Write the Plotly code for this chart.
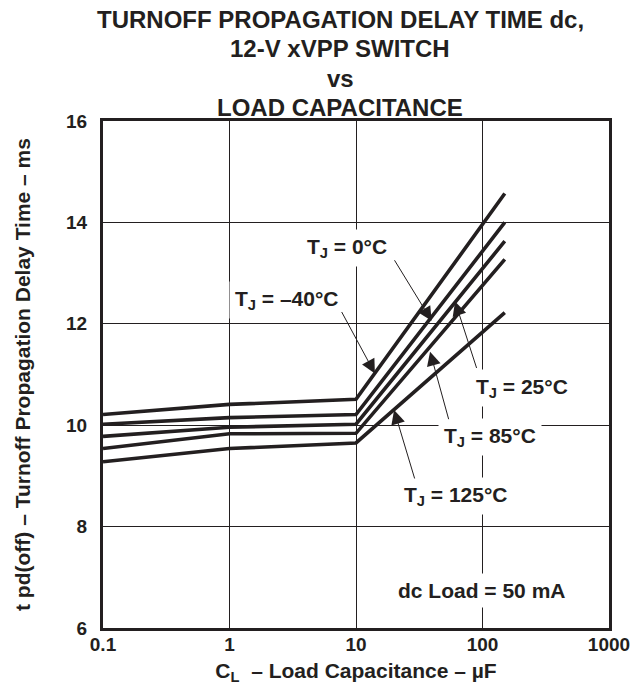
import numpy as np
import plotly.graph_objects as go

# ---- data ----
cap_uF = [0.1, 1, 10, 150]
series_names = ["TJ = -40°C", "TJ = 0°C", "TJ = 25°C", "TJ = 85°C", "TJ = 125°C"]
t_m40 = [10.21, 10.41, 10.51, 14.57]
t_0 = [10.02, 10.15, 10.21, 14.00]
t_25 = [9.78, 9.96, 10.02, 13.63]
t_85 = [9.54, 9.83, 9.84, 13.27]
t_125 = [9.28, 9.54, 9.65, 12.22]
all_series = [t_m40, t_0, t_25, t_85, t_125]

x_tickvals = [0.1, 1, 10, 100, 1000]
x_ticktext = ["0.1", "1", "10", "100", "1000"]
y_tickvals = [6, 8, 10, 12, 14, 16]
y_ticktext = ["6", "8", "10", "12", "14", "16"]

title_lines = ["TURNOFF PROPAGATION DELAY TIME dc,", "12-V xVPP SWITCH", "vs", "LOAD CAPACITANCE"]

# labels: text, label centre (C, t), arrow tip (C, t), tail offset px
labels = [
    ("T<sub>J</sub> = 0°C", 8.49, 13.50, 39.6, 12.06, -38, -62),
    ("T<sub>J</sub> = –40°C", 2.85, 12.46, 14.1, 11.02, -34, -63),
    ("T<sub>J</sub> = 25°C", 205, 10.74, 60.7, 12.44, 22, 68),
    ("T<sub>J</sub> = 85°C", 114.5, 9.76, 38.5, 11.45, 19, 69),
    ("T<sub>J</sub> = 125°C", 61.8, 8.61, 20.0, 10.30, 21, 70),
]
note_text = "dc Load = 50 mA"
note_pos = (97.3, 6.74)

FONT = "Liberation Sans, Arial, sans-serif"
INK = "#231f20"

fig = go.Figure()
for name, ys in zip(series_names, all_series):
    fig.add_trace(go.Scatter(x=cap_uF, y=ys, mode="lines", name=name,
                             line=dict(color=INK, width=3.6),
                             showlegend=False))

anns = []
for text, lx, ly, tx, ty, axp, ayp in labels:
    anns.append(dict(x=np.log10(lx), y=ly, xref="x", yref="y", text="<b>" + text + "</b>",
                     showarrow=False, bgcolor="white", borderpad=5,
                     font=dict(family=FONT, size=21, color=INK)))
    anns.append(dict(x=np.log10(tx), y=ty, xref="x", yref="y", text="",
                     showarrow=True, ax=axp, ay=ayp, arrowhead=2, arrowsize=2.8,
                     arrowwidth=1, arrowcolor=INK))
anns.append(dict(x=np.log10(note_pos[0]), y=note_pos[1], xref="x", yref="y",
                 text="<b>" + note_text + "</b>", showarrow=False, bgcolor="white", borderpad=5,
                 font=dict(family=FONT, size=21, color=INK)))
for k, line in enumerate(reversed(title_lines)):
    anns.append(dict(x=(340 - 103) / 506, y=1, xref="paper", yref="paper",
                     xanchor="center", yanchor="bottom", showarrow=False,
                     yshift=-2 + 29.4 * k,
                     text="<b>" + line + "</b>",
                     font=dict(family=FONT, size=24, color=INK)))

fig.update_layout(
    width=633, height=685,
    margin=dict(l=103, r=24, t=121, b=57),
    paper_bgcolor="white", plot_bgcolor="white",
    font=dict(family=FONT, color=INK),
    annotations=anns,
)
fig.update_xaxes(type="log", range=[-1, 3], tickvals=x_tickvals,
                 ticktext=["<b>" + t + "</b>" for t in x_ticktext],
                 showgrid=True, gridcolor=INK, gridwidth=1,
                 showline=True, linecolor=INK, linewidth=3, mirror=True,
                 ticks="", zeroline=False, automargin=False, ticklabelstandoff=-3,
                 tickfont=dict(family=FONT, size=19, color=INK),
                 title=dict(text="<b>C<sub>L</sub>  – Load Capacitance – µF</b>", standoff=15,
                            font=dict(family=FONT, size=21, color=INK)))
fig.update_yaxes(range=[6, 16], tickvals=y_tickvals,
                 ticktext=["<b>" + t + "</b>" for t in y_ticktext],
                 showgrid=True, gridcolor=INK, gridwidth=1,
                 showline=True, linecolor=INK, linewidth=3, mirror=True,
                 ticks="", zeroline=False, automargin=False, ticklabelstandoff=9,
                 tickfont=dict(family=FONT, size=19, color=INK),
                 title=dict(text="<b>t pd(off) – Turnoff Propagation Delay Time – ms</b>", standoff=30,
                            font=dict(family=FONT, size=21, color=INK)))

# remove the default 8px page margin so the figure fills the window exactly
fig.write_html("out.html", config={"displayModeBar": False},
               post_script="document.body.style.margin='0';")
